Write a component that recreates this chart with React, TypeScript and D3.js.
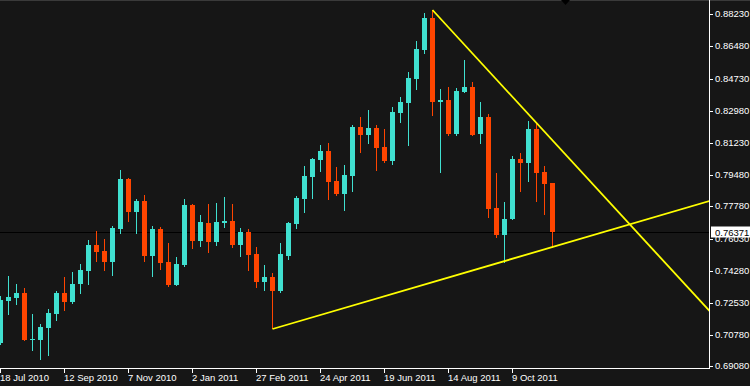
import React from 'react';
import * as d3 from 'd3';

// ---- data (weekly bars starting 18 Jul 2010) ----
const dateLabels = [
  '18 Jul 2010', '12 Sep 2010', '7 Nov 2010', '2 Jan 2011', '27 Feb 2011',
  '24 Apr 2011', '19 Jun 2011', '14 Aug 2011', '9 Oct 2011',
];
const labelEvery = 8;

const opens = [
  0.70346, 0.72648, 0.72811, 0.73067, 0.70564, 0.70510, 0.71163, 0.71924, 0.73067, 0.72577,
  0.73556, 0.74264, 0.75678, 0.75352, 0.74753, 0.76549, 0.79269, 0.77474, 0.78072, 0.75080,
  0.76549, 0.74753, 0.73502, 0.74590, 0.77855, 0.75896, 0.76875, 0.75842, 0.76875, 0.76984,
  0.75678, 0.76386, 0.75189, 0.73665, 0.73937, 0.73176, 0.75080, 0.76821, 0.78181, 0.79378,
  0.80303, 0.80793, 0.79160, 0.78453, 0.79432, 0.82098, 0.81663, 0.82044, 0.81010, 0.80248,
  0.82860, 0.83404, 0.84710, 0.86288, 0.88029, 0.83459, 0.83567, 0.81717, 0.84003, 0.84275,
  0.81717, 0.82642, 0.77691, 0.76222, 0.77093, 0.80357, 0.80140, 0.81990, 0.79650, 0.79052,
];
const highs = [
  0.72904, 0.73992, 0.73556, 0.73339, 0.71924, 0.71380, 0.72196, 0.73176, 0.73937, 0.74209,
  0.74645, 0.75950, 0.76440, 0.76005, 0.76712, 0.79759, 0.79324, 0.78181, 0.78399, 0.76712,
  0.76658, 0.75787, 0.75025, 0.78181, 0.77909, 0.77311, 0.77909, 0.77963, 0.78290, 0.77909,
  0.76603, 0.76549, 0.75570, 0.74590, 0.74155, 0.75787, 0.76930, 0.78344, 0.79976, 0.80412,
  0.81119, 0.81228, 0.79922, 0.80031, 0.82207, 0.82642, 0.83023, 0.82207, 0.81990, 0.83186,
  0.83731, 0.85091, 0.86777, 0.88301, 0.88464, 0.84166, 0.84275, 0.84220, 0.85744, 0.84547,
  0.83459, 0.82806, 0.79596, 0.78018, 0.80521, 0.80684, 0.82425, 0.82316, 0.79976, 0.79052,
];
const lows = [
  0.70238, 0.71886, 0.72414, 0.70455, 0.69911, 0.69421, 0.69639, 0.71543, 0.72087, 0.72468,
  0.73012, 0.73502, 0.74753, 0.74264, 0.73992, 0.76277, 0.76930, 0.76277, 0.74753, 0.73937,
  0.74318, 0.73393, 0.73448, 0.74481, 0.75461, 0.75570, 0.75243, 0.75624, 0.76603, 0.75515,
  0.75025, 0.74264, 0.73339, 0.73176, 0.71108, 0.73067, 0.74862, 0.76549, 0.77419, 0.78181,
  0.79650, 0.78127, 0.78344, 0.77528, 0.78562, 0.80684, 0.81173, 0.79704, 0.80140, 0.80031,
  0.82316, 0.81065, 0.84111, 0.86070, 0.82697, 0.79596, 0.81609, 0.81609, 0.83948, 0.81609,
  0.81173, 0.77147, 0.76059, 0.74699, 0.77038, 0.78562, 0.79106, 0.78018, 0.77311, 0.75515,
];
const closes = [
  0.72686, 0.72849, 0.73067, 0.70510, 0.70564, 0.71217, 0.71979, 0.73067, 0.72577, 0.73556,
  0.74318, 0.75678, 0.75297, 0.74753, 0.76603, 0.79269, 0.77474, 0.78072, 0.75080, 0.76549,
  0.74699, 0.73502, 0.74645, 0.77855, 0.75896, 0.76930, 0.75842, 0.76930, 0.76984, 0.75678,
  0.76386, 0.75134, 0.73665, 0.73937, 0.73176, 0.75189, 0.76875, 0.78235, 0.79432, 0.80357,
  0.80793, 0.79106, 0.78453, 0.79487, 0.82098, 0.81663, 0.82044, 0.80956, 0.80248, 0.82914,
  0.83459, 0.84764, 0.86342, 0.88029, 0.83459, 0.83567, 0.81717, 0.84057, 0.84275, 0.81663,
  0.82642, 0.77637, 0.76222, 0.77093, 0.80357, 0.80140, 0.81990, 0.79596, 0.78997, 0.76371,
];
// doji flags (open == close but drawn as bull colour)
const priceTicks = [
  0.88230, 0.86480, 0.84730, 0.82980, 0.81230, 0.79480,
  0.77780, 0.76030, 0.74280, 0.72530, 0.70780, 0.69080,
];
const lastPrice = 0.76371;
const trendDown: [number, number][] = [[54, 0.88464], [67, 0.82316]];
const trendUp: [number, number][] = [[34, 0.71108], [69, 0.75570]];

// ---- layout ----
const W = 750;
const H = 386;
const plotRight = 709;
const plotBottom = 368;
const BG = '#161616';
const BULL = '#40E0D0';
const BEAR = '#FF4500';
const FG = '#FFFFFF';
const FONT = "'Liberation Sans', Arial, sans-serif";

export default function App() {
  const n = opens.length;
  const x = d3.scaleLinear().domain([0, n - 1]).range([0, (n - 1) * 8]);
  const y = d3.scaleLinear().domain([0.6908, 0.8823]).range([14.3 + (0.8823 - 0.6908) * 1838, 14.3]);
  const ry = (p: number) => Math.round(y(p));

  const extend = (t: [number, number][]) => {
    const [[i0, p0], [i1, p1]] = t;
    const iEnd = x.invert(plotRight);
    const pEnd = p0 + ((p1 - p0) * (iEnd - i0)) / (i1 - i0);
    return { x1: x(i0) + 0.5, y1: y(p0), x2: x(iEnd) + 0.5, y2: y(pEnd) };
  };
  const l1 = extend(trendDown);
  const l2 = extend(trendUp);
  const lastY = ry(lastPrice);

  return (
    <svg
      width={W}
      height={H}
      style={{ position: 'absolute', left: 0, top: 0, display: 'block' }}
      fontFamily={FONT}
    >
      <defs>
        <clipPath id="plot">
          <rect x={0} y={0} width={plotRight} height={plotBottom} />
        </clipPath>
      </defs>
      <rect x={0} y={0} width={W} height={H} fill={BG} />
      <rect x={0} y={0} width={W} height={1} fill="#3a3a3a" />

      {/* bid line (behind candles) */}
      <rect x={0} y={lastY} width={plotRight} height={1} fill="#000" />

      <g clipPath="url(#plot)" shapeRendering="crispEdges">
        {opens.map((o, i) => {
          const c = closes[i];
          const up = c >= o;
          const col = up ? BULL : BEAR;
          const cx = Math.round(x(i));
          const top = ry(Math.max(o, c));
          const bot = ry(Math.min(o, c));
          const hy = ry(highs[i]);
          const ly = ry(lows[i]);
          return (
            <g key={i} fill={col}>
              <rect x={cx} y={hy} width={1} height={Math.max(1, ly - hy)} />
              <rect x={cx - 2} y={top} width={5} height={Math.max(1, bot - top)} />
            </g>
          );
        })}
      </g>

      <g clipPath="url(#plot)">
        <line {...l1} stroke="#FFFF00" strokeWidth={1.8} />
        <line {...l2} stroke="#FFFF00" strokeWidth={1.8} />
      </g>

      {/* chart-shift marker */}
      <polygon points="561,0 570,0 565.5,5" fill="#000" />

      {/* axes */}
      <g shapeRendering="crispEdges">
        <rect x={plotRight} y={0} width={1} height={plotBottom + 1} fill={FG} />
        <rect x={0} y={plotBottom} width={plotRight + 1} height={1} fill={FG} />
        {priceTicks.map((t) => (
          <rect key={'pt' + t} x={plotRight + 1} y={ry(t)} width={3} height={1} fill={FG} />
        ))}
        {dateLabels.map((d, k) => (
          <rect key={'dt' + d} x={Math.round(x(k * labelEvery))} y={plotBottom + 1} width={1} height={4} fill={FG} />
        ))}
      </g>
      {priceTicks.map((t) => (
        <text key={'pl' + t} x={715} y={ry(t) + 3} fontSize={9.5} fill={FG}>
          {t.toFixed(5)}
        </text>
      ))}
      {dateLabels.map((d, k) => (
        <text key={'dl' + d} x={Math.round(x(k * labelEvery))} y={381} fontSize={9.5} fill={FG}>
          {d}
        </text>
      ))}

      {/* last price label */}
      <rect x={711} y={lastY - 5.5} width={39} height={11} fill="#FFFFFF" />
      <text x={715} y={lastY + 3.5} fontSize={9.5} fill="#000">
        {lastPrice.toFixed(5)}
      </text>
    </svg>
  );
}
